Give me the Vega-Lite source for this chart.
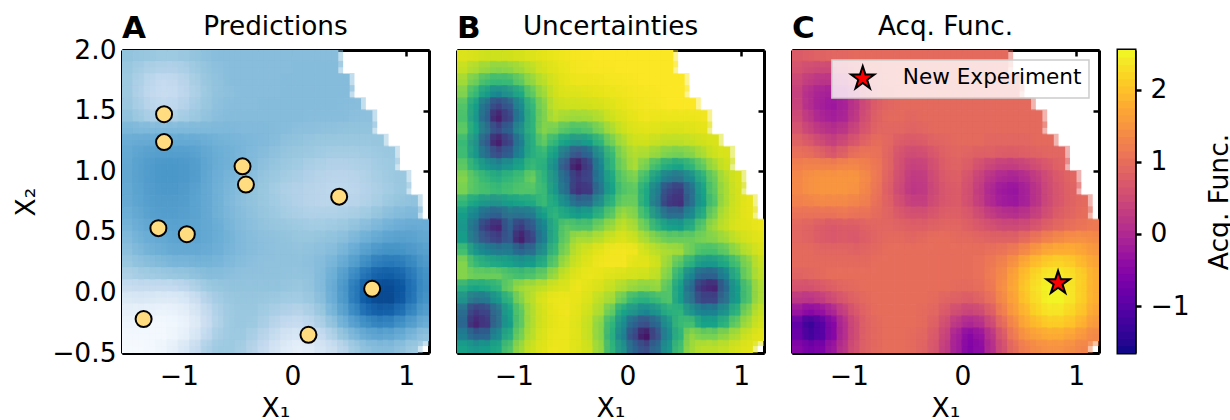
{
"$schema":"https://vega.github.io/schema/vega-lite/v6.json",
"background":"white",
"padding":{"left":13,"top":13,"right":0,"bottom":0},
"config":{"font":"DejaVu Sans","view":{"stroke":null},
"axis":{"zindex":2,"grid":false,"domainColor":"black","domainWidth":3,"tickColor":"black","tickWidth":2.5,"labelColor":"black","titleColor":"black","labelFontSize":26.5,"titleFontSize":26.5,"titleFontWeight":"normal","labelFlush":false,"labelOverlap":false}},
"datasets":{
"grid":[
{"x":-1.45,"y":1.95,"a":35,"b":86,"c":0.75},{"x":-1.35,"y":1.95,"a":34,"b":84,"c":0.8},{"x":-1.25,"y":1.95,"a":33,"b":80,"c":0.85},{"x":-1.15,"y":1.95,"a":32,"b":80,"c":0.9},{"x":-1.05,"y":1.95,"a":32,"b":81,"c":0.9},{"x":-0.95,"y":1.95,"a":33,"b":83,"c":0.95},{"x":-0.85,"y":1.95,"a":35,"b":86,"c":0.95},{"x":-0.75,"y":1.95,"a":37,"b":89,"c":0.95},{"x":-0.65,"y":1.95,"a":38,"b":92,"c":0.95},{"x":-0.55,"y":1.95,"a":38,"b":95,"c":0.95},{"x":-0.45,"y":1.95,"a":38,"b":97,"c":0.95},{"x":-0.35,"y":1.95,"a":38,"b":98,"c":0.95},{"x":-0.25,"y":1.95,"a":38,"b":99,"c":0.95},{"x":-0.15,"y":1.95,"a":38,"b":99,"c":0.95},{"x":-0.05,"y":1.95,"a":38,"b":99,"c":0.95},{"x":0.05,"y":1.95,"a":38,"b":99,"c":0.95},{"x":0.15,"y":1.95,"a":38,"b":99,"c":0.95},{"x":0.25,"y":1.95,"a":38,"b":99,"c":0.95},{"x":0.35,"y":1.95,"a":38,"b":99,"c":0.95},
{"x":-1.45,"y":1.85,"a":33,"b":78,"c":0.6},{"x":-1.35,"y":1.85,"a":30,"b":72,"c":0.5},{"x":-1.25,"y":1.85,"a":28,"b":68,"c":0.45},{"x":-1.15,"y":1.85,"a":27,"b":66,"c":0.45},{"x":-1.05,"y":1.85,"a":27,"b":67,"c":0.55},{"x":-0.95,"y":1.85,"a":29,"b":70,"c":0.7},{"x":-0.85,"y":1.85,"a":32,"b":76,"c":0.85},{"x":-0.75,"y":1.85,"a":35,"b":83,"c":0.9},{"x":-0.65,"y":1.85,"a":37,"b":88,"c":0.95},{"x":-0.55,"y":1.85,"a":38,"b":92,"c":0.95},{"x":-0.45,"y":1.85,"a":38,"b":96,"c":0.95},{"x":-0.35,"y":1.85,"a":38,"b":97,"c":0.95},{"x":-0.25,"y":1.85,"a":38,"b":98,"c":0.95},{"x":-0.15,"y":1.85,"a":38,"b":98,"c":0.95},{"x":-0.05,"y":1.85,"a":38,"b":99,"c":0.95},{"x":0.05,"y":1.85,"a":39,"b":99,"c":0.95},{"x":0.15,"y":1.85,"a":39,"b":99,"c":0.95},{"x":0.25,"y":1.85,"a":39,"b":99,"c":0.95},{"x":0.35,"y":1.85,"a":39,"b":99,"c":0.95},
{"x":-1.45,"y":1.75,"a":32,"b":70,"c":0.45},{"x":-1.35,"y":1.75,"a":28,"b":62,"c":0.25},{"x":-1.25,"y":1.75,"a":24,"b":55,"c":0.15},{"x":-1.15,"y":1.75,"a":22,"b":53,"c":0.15},{"x":-1.05,"y":1.75,"a":23,"b":54,"c":0.25},{"x":-0.95,"y":1.75,"a":26,"b":60,"c":0.5},{"x":-0.85,"y":1.75,"a":30,"b":68,"c":0.75},{"x":-0.75,"y":1.75,"a":34,"b":76,"c":0.85},{"x":-0.65,"y":1.75,"a":36,"b":84,"c":0.95},{"x":-0.55,"y":1.75,"a":38,"b":90,"c":0.95},{"x":-0.45,"y":1.75,"a":38,"b":93,"c":0.95},{"x":-0.35,"y":1.75,"a":38,"b":93,"c":0.95},{"x":-0.25,"y":1.75,"a":38,"b":94,"c":0.95},{"x":-0.15,"y":1.75,"a":38,"b":96,"c":0.95},{"x":-0.05,"y":1.75,"a":39,"b":97,"c":0.95},{"x":0.05,"y":1.75,"a":39,"b":98,"c":0.95},{"x":0.15,"y":1.75,"a":39,"b":99,"c":0.95},{"x":0.25,"y":1.75,"a":39,"b":99,"c":0.95},{"x":0.35,"y":1.75,"a":39,"b":99,"c":0.95},{"x":0.45,"y":1.75,"a":39,"b":99,"c":0.95},
{"x":-1.45,"y":1.65,"a":32,"b":65,"c":0.35},{"x":-1.35,"y":1.65,"a":27,"b":53,"c":0.05},{"x":-1.25,"y":1.65,"a":23,"b":43,"c":-0.1},{"x":-1.15,"y":1.65,"a":21,"b":36,"c":-0.15},{"x":-1.05,"y":1.65,"a":22,"b":40,"c":-0.05},{"x":-0.95,"y":1.65,"a":25,"b":48,"c":0.25},{"x":-0.85,"y":1.65,"a":29,"b":60,"c":0.6},{"x":-0.75,"y":1.65,"a":33,"b":70,"c":0.8},{"x":-0.65,"y":1.65,"a":36,"b":81,"c":0.9},{"x":-0.55,"y":1.65,"a":37,"b":86,"c":0.95},{"x":-0.45,"y":1.65,"a":38,"b":86,"c":0.95},{"x":-0.35,"y":1.65,"a":38,"b":88,"c":0.95},{"x":-0.25,"y":1.65,"a":38,"b":90,"c":0.95},{"x":-0.15,"y":1.65,"a":38,"b":92,"c":0.95},{"x":-0.05,"y":1.65,"a":39,"b":94,"c":0.95},{"x":0.05,"y":1.65,"a":39,"b":96,"c":0.95},{"x":0.15,"y":1.65,"a":39,"b":97,"c":0.95},{"x":0.25,"y":1.65,"a":39,"b":98,"c":0.95},{"x":0.35,"y":1.65,"a":39,"b":99,"c":0.95},{"x":0.45,"y":1.65,"a":39,"b":99,"c":0.95},
{"x":-1.45,"y":1.55,"a":33,"b":58,"c":0.4},{"x":-1.35,"y":1.55,"a":29,"b":44,"c":0.05},{"x":-1.25,"y":1.55,"a":25,"b":27,"c":-0.15},{"x":-1.15,"y":1.55,"a":23,"b":16,"c":-0.25},{"x":-1.05,"y":1.55,"a":24,"b":22,"c":-0.1},{"x":-0.95,"y":1.55,"a":27,"b":38,"c":0.2},{"x":-0.85,"y":1.55,"a":31,"b":53,"c":0.55},{"x":-0.75,"y":1.55,"a":34,"b":66,"c":0.8},{"x":-0.65,"y":1.55,"a":37,"b":78,"c":0.9},{"x":-0.55,"y":1.55,"a":38,"b":80,"c":0.95},{"x":-0.45,"y":1.55,"a":38,"b":80,"c":0.95},{"x":-0.35,"y":1.55,"a":38,"b":81,"c":0.95},{"x":-0.25,"y":1.55,"a":39,"b":83,"c":0.95},{"x":-0.15,"y":1.55,"a":39,"b":87,"c":0.95},{"x":-0.05,"y":1.55,"a":39,"b":91,"c":0.95},{"x":0.05,"y":1.55,"a":39,"b":94,"c":0.95},{"x":0.15,"y":1.55,"a":39,"b":96,"c":0.95},{"x":0.25,"y":1.55,"a":39,"b":97,"c":0.95},{"x":0.35,"y":1.55,"a":39,"b":99,"c":0.95},{"x":0.45,"y":1.55,"a":38,"b":99,"c":0.95},{"x":0.55,"y":1.55,"a":38,"b":99,"c":0.95},
{"x":-1.45,"y":1.45,"a":36,"b":57,"c":0.5},{"x":-1.35,"y":1.45,"a":32,"b":42,"c":0.2},{"x":-1.25,"y":1.45,"a":29,"b":24,"c":-0.05},{"x":-1.15,"y":1.45,"a":28,"b":8,"c":-0.15},{"x":-1.05,"y":1.45,"a":29,"b":17,"c":-0.05},{"x":-0.95,"y":1.45,"a":31,"b":35,"c":0.25},{"x":-0.85,"y":1.45,"a":33,"b":52,"c":0.6},{"x":-0.75,"y":1.45,"a":36,"b":65,"c":0.85},{"x":-0.65,"y":1.45,"a":38,"b":74,"c":0.95},{"x":-0.55,"y":1.45,"a":39,"b":70,"c":0.95},{"x":-0.45,"y":1.45,"a":39,"b":69,"c":0.9},{"x":-0.35,"y":1.45,"a":39,"b":70,"c":0.95},{"x":-0.25,"y":1.45,"a":39,"b":74,"c":0.95},{"x":-0.15,"y":1.45,"a":39,"b":80,"c":0.95},{"x":-0.05,"y":1.45,"a":39,"b":86,"c":0.95},{"x":0.05,"y":1.45,"a":39,"b":90,"c":0.95},{"x":0.15,"y":1.45,"a":38,"b":94,"c":0.95},{"x":0.25,"y":1.45,"a":38,"b":92,"c":0.95},{"x":0.35,"y":1.45,"a":38,"b":92,"c":0.95},{"x":0.45,"y":1.45,"a":38,"b":92,"c":0.95},{"x":0.55,"y":1.45,"a":37,"b":92,"c":0.95},{"x":0.65,"y":1.45,"a":37,"b":94,"c":0.95},
{"x":-1.45,"y":1.35,"a":42,"b":60,"c":0.65},{"x":-1.35,"y":1.35,"a":41,"b":46,"c":0.4},{"x":-1.25,"y":1.35,"a":41,"b":30,"c":0.2},{"x":-1.15,"y":1.35,"a":41,"b":18,"c":0.1},{"x":-1.05,"y":1.35,"a":41,"b":25,"c":0.2},{"x":-0.95,"y":1.35,"a":41,"b":40,"c":0.45},{"x":-0.85,"y":1.35,"a":41,"b":52,"c":0.7},{"x":-0.75,"y":1.35,"a":41,"b":66,"c":0.9},{"x":-0.65,"y":1.35,"a":41,"b":63,"c":0.9},{"x":-0.55,"y":1.35,"a":41,"b":58,"c":0.9},{"x":-0.45,"y":1.35,"a":40,"b":56,"c":0.85},{"x":-0.35,"y":1.35,"a":40,"b":58,"c":0.9},{"x":-0.25,"y":1.35,"a":40,"b":64,"c":0.95},{"x":-0.15,"y":1.35,"a":39,"b":72,"c":0.95},{"x":-0.05,"y":1.35,"a":38,"b":80,"c":0.95},{"x":0.05,"y":1.35,"a":37,"b":86,"c":0.95},{"x":0.15,"y":1.35,"a":37,"b":88,"c":0.95},{"x":0.25,"y":1.35,"a":36,"b":87,"c":0.95},{"x":0.35,"y":1.35,"a":36,"b":85,"c":0.95},{"x":0.45,"y":1.35,"a":35,"b":85,"c":0.95},{"x":0.55,"y":1.35,"a":35,"b":87,"c":0.95},{"x":0.65,"y":1.35,"a":35,"b":89,"c":0.95},
{"x":-1.45,"y":1.25,"a":47,"b":54,"c":0.85},{"x":-1.35,"y":1.25,"a":48,"b":40,"c":0.7},{"x":-1.25,"y":1.25,"a":48,"b":22,"c":0.5},{"x":-1.15,"y":1.25,"a":50,"b":8,"c":0.35},{"x":-1.05,"y":1.25,"a":49,"b":17,"c":0.5},{"x":-0.95,"y":1.25,"a":49,"b":34,"c":0.7},{"x":-0.85,"y":1.25,"a":48,"b":50,"c":0.9},{"x":-0.75,"y":1.25,"a":46,"b":60,"c":1.0},{"x":-0.65,"y":1.25,"a":44,"b":52,"c":0.9},{"x":-0.55,"y":1.25,"a":43,"b":45,"c":0.75},{"x":-0.45,"y":1.25,"a":42,"b":40,"c":0.7},{"x":-0.35,"y":1.25,"a":41,"b":44,"c":0.75},{"x":-0.25,"y":1.25,"a":40,"b":52,"c":0.85},{"x":-0.15,"y":1.25,"a":38,"b":63,"c":0.9},{"x":-0.05,"y":1.25,"a":36,"b":72,"c":0.95},{"x":0.05,"y":1.25,"a":35,"b":80,"c":0.95},{"x":0.15,"y":1.25,"a":34,"b":81,"c":0.95},{"x":0.25,"y":1.25,"a":33,"b":78,"c":0.9},{"x":0.35,"y":1.25,"a":33,"b":76,"c":0.9},{"x":0.45,"y":1.25,"a":33,"b":76,"c":0.9},{"x":0.55,"y":1.25,"a":33,"b":78,"c":0.9},{"x":0.65,"y":1.25,"a":33,"b":81,"c":0.95},{"x":0.75,"y":1.25,"a":34,"b":85,"c":0.95},
{"x":-1.45,"y":1.15,"a":49,"b":55,"c":1.05},{"x":-1.35,"y":1.15,"a":52,"b":42,"c":1.0},{"x":-1.25,"y":1.15,"a":54,"b":28,"c":0.85},{"x":-1.15,"y":1.15,"a":55,"b":19,"c":0.7},{"x":-1.05,"y":1.15,"a":55,"b":24,"c":0.85},{"x":-0.95,"y":1.15,"a":55,"b":37,"c":1.05},{"x":-0.85,"y":1.15,"a":53,"b":50,"c":1.1},{"x":-0.75,"y":1.15,"a":49,"b":53,"c":1.05},{"x":-0.65,"y":1.15,"a":46,"b":44,"c":0.85},{"x":-0.55,"y":1.15,"a":44,"b":30,"c":0.6},{"x":-0.45,"y":1.15,"a":42,"b":20,"c":0.5},{"x":-0.35,"y":1.15,"a":40,"b":26,"c":0.55},{"x":-0.25,"y":1.15,"a":38,"b":40,"c":0.7},{"x":-0.15,"y":1.15,"a":36,"b":54,"c":0.85},{"x":-0.05,"y":1.15,"a":34,"b":67,"c":0.9},{"x":0.05,"y":1.15,"a":33,"b":74,"c":0.85},{"x":0.15,"y":1.15,"a":32,"b":72,"c":0.8},{"x":0.25,"y":1.15,"a":31,"b":68,"c":0.8},{"x":0.35,"y":1.15,"a":30,"b":64,"c":0.75},{"x":0.45,"y":1.15,"a":30,"b":63,"c":0.75},{"x":0.55,"y":1.15,"a":30,"b":66,"c":0.8},{"x":0.65,"y":1.15,"a":31,"b":72,"c":0.85},{"x":0.75,"y":1.15,"a":32,"b":80,"c":0.9},{"x":0.85,"y":1.15,"a":33,"b":85,"c":0.9},
{"x":-1.45,"y":1.05,"a":50,"b":60,"c":1.25},{"x":-1.35,"y":1.05,"a":54,"b":50,"c":1.3},{"x":-1.25,"y":1.05,"a":57,"b":42,"c":1.3},{"x":-1.15,"y":1.05,"a":59,"b":38,"c":1.3},{"x":-1.05,"y":1.05,"a":59,"b":42,"c":1.35},{"x":-0.95,"y":1.05,"a":58,"b":47,"c":1.35},{"x":-0.85,"y":1.05,"a":55,"b":54,"c":1.25},{"x":-0.75,"y":1.05,"a":50,"b":50,"c":1.1},{"x":-0.65,"y":1.05,"a":46,"b":38,"c":0.85},{"x":-0.55,"y":1.05,"a":44,"b":20,"c":0.55},{"x":-0.45,"y":1.05,"a":42,"b":6,"c":0.35},{"x":-0.35,"y":1.05,"a":39,"b":16,"c":0.4},{"x":-0.25,"y":1.05,"a":36,"b":36,"c":0.6},{"x":-0.15,"y":1.05,"a":34,"b":52,"c":0.8},{"x":-0.05,"y":1.05,"a":32,"b":64,"c":0.85},{"x":0.05,"y":1.05,"a":31,"b":72,"c":0.75},{"x":0.15,"y":1.05,"a":29,"b":63,"c":0.55},{"x":0.25,"y":1.05,"a":28,"b":54,"c":0.4},{"x":0.35,"y":1.05,"a":27,"b":48,"c":0.3},{"x":0.45,"y":1.05,"a":27,"b":46,"c":0.3},{"x":0.55,"y":1.05,"a":28,"b":52,"c":0.4},{"x":0.65,"y":1.05,"a":29,"b":60,"c":0.55},{"x":0.75,"y":1.05,"a":31,"b":70,"c":0.7},{"x":0.85,"y":1.05,"a":32,"b":80,"c":0.85},
{"x":-1.45,"y":0.95,"a":50,"b":66,"c":1.35},{"x":-1.35,"y":0.95,"a":54,"b":58,"c":1.45},{"x":-1.25,"y":0.95,"a":57,"b":53,"c":1.5},{"x":-1.15,"y":0.95,"a":59,"b":50,"c":1.5},{"x":-1.05,"y":0.95,"a":59,"b":53,"c":1.5},{"x":-0.95,"y":0.95,"a":58,"b":56,"c":1.5},{"x":-0.85,"y":0.95,"a":55,"b":62,"c":1.35},{"x":-0.75,"y":0.95,"a":49,"b":52,"c":1.1},{"x":-0.65,"y":0.95,"a":45,"b":40,"c":0.8},{"x":-0.55,"y":0.95,"a":42,"b":26,"c":0.5},{"x":-0.45,"y":0.95,"a":40,"b":14,"c":0.25},{"x":-0.35,"y":0.95,"a":37,"b":17,"c":0.3},{"x":-0.25,"y":0.95,"a":34,"b":34,"c":0.55},{"x":-0.15,"y":0.95,"a":32,"b":48,"c":0.75},{"x":-0.05,"y":0.95,"a":30,"b":60,"c":0.8},{"x":0.05,"y":0.95,"a":29,"b":64,"c":0.6},{"x":0.15,"y":0.95,"a":27,"b":54,"c":0.35},{"x":0.25,"y":0.95,"a":26,"b":42,"c":0.1},{"x":0.35,"y":0.95,"a":25,"b":32,"c":-0.05},{"x":0.45,"y":0.95,"a":25,"b":30,"c":-0.1},{"x":0.55,"y":0.95,"a":26,"b":38,"c":0.05},{"x":0.65,"y":0.95,"a":28,"b":50,"c":0.3},{"x":0.75,"y":0.95,"a":30,"b":62,"c":0.55},{"x":0.85,"y":0.95,"a":32,"b":74,"c":0.75},{"x":0.95,"y":0.95,"a":33,"b":84,"c":0.9},
{"x":-1.45,"y":0.85,"a":49,"b":64,"c":1.35},{"x":-1.35,"y":0.85,"a":53,"b":58,"c":1.45},{"x":-1.25,"y":0.85,"a":56,"b":56,"c":1.5},{"x":-1.15,"y":0.85,"a":58,"b":54,"c":1.5},{"x":-1.05,"y":0.85,"a":58,"b":56,"c":1.5},{"x":-0.95,"y":0.85,"a":56,"b":58,"c":1.45},{"x":-0.85,"y":0.85,"a":53,"b":58,"c":1.3},{"x":-0.75,"y":0.85,"a":48,"b":54,"c":1.05},{"x":-0.65,"y":0.85,"a":44,"b":42,"c":0.75},{"x":-0.55,"y":0.85,"a":41,"b":28,"c":0.45},{"x":-0.45,"y":0.85,"a":38,"b":12,"c":0.2},{"x":-0.35,"y":0.85,"a":35,"b":14,"c":0.25},{"x":-0.25,"y":0.85,"a":33,"b":31,"c":0.5},{"x":-0.15,"y":0.85,"a":30,"b":46,"c":0.7},{"x":-0.05,"y":0.85,"a":28,"b":58,"c":0.75},{"x":0.05,"y":0.85,"a":27,"b":60,"c":0.55},{"x":0.15,"y":0.85,"a":26,"b":48,"c":0.25},{"x":0.25,"y":0.85,"a":25,"b":33,"c":-0.05},{"x":0.35,"y":0.85,"a":24,"b":17,"c":-0.25},{"x":0.45,"y":0.85,"a":24,"b":14,"c":-0.3},{"x":0.55,"y":0.85,"a":25,"b":29,"c":-0.1},{"x":0.65,"y":0.85,"a":27,"b":46,"c":0.2},{"x":0.75,"y":0.85,"a":29,"b":60,"c":0.5},{"x":0.85,"y":0.85,"a":31,"b":72,"c":0.7},{"x":0.95,"y":0.85,"a":33,"b":83,"c":0.85},
{"x":-1.45,"y":0.75,"a":48,"b":52,"c":1.25},{"x":-1.35,"y":0.75,"a":52,"b":46,"c":1.3},{"x":-1.25,"y":0.75,"a":55,"b":41,"c":1.35},{"x":-1.15,"y":0.75,"a":56,"b":40,"c":1.35},{"x":-1.05,"y":0.75,"a":56,"b":44,"c":1.35},{"x":-0.95,"y":0.75,"a":55,"b":46,"c":1.3},{"x":-0.85,"y":0.75,"a":52,"b":48,"c":1.2},{"x":-0.75,"y":0.75,"a":48,"b":54,"c":1.0},{"x":-0.65,"y":0.75,"a":44,"b":48,"c":0.8},{"x":-0.55,"y":0.75,"a":40,"b":38,"c":0.55},{"x":-0.45,"y":0.75,"a":37,"b":28,"c":0.35},{"x":-0.35,"y":0.75,"a":35,"b":29,"c":0.35},{"x":-0.25,"y":0.75,"a":33,"b":40,"c":0.55},{"x":-0.15,"y":0.75,"a":31,"b":52,"c":0.7},{"x":-0.05,"y":0.75,"a":29,"b":62,"c":0.75},{"x":0.05,"y":0.75,"a":27,"b":62,"c":0.55},{"x":0.15,"y":0.75,"a":26,"b":48,"c":0.3},{"x":0.25,"y":0.75,"a":25,"b":31,"c":0.0},{"x":0.35,"y":0.75,"a":25,"b":14,"c":-0.2},{"x":0.45,"y":0.75,"a":25,"b":12,"c":-0.25},{"x":0.55,"y":0.75,"a":26,"b":29,"c":-0.1},{"x":0.65,"y":0.75,"a":28,"b":44,"c":0.2},{"x":0.75,"y":0.75,"a":30,"b":58,"c":0.5},{"x":0.85,"y":0.75,"a":33,"b":72,"c":0.7},{"x":0.95,"y":0.75,"a":35,"b":83,"c":0.85},{"x":1.05,"y":0.75,"a":36,"b":90,"c":0.95},
{"x":-1.45,"y":0.65,"a":46,"b":44,"c":1.05},{"x":-1.35,"y":0.65,"a":50,"b":35,"c":1.05},{"x":-1.25,"y":0.65,"a":54,"b":26,"c":1.05},{"x":-1.15,"y":0.65,"a":55,"b":23,"c":1.05},{"x":-1.05,"y":0.65,"a":55,"b":30,"c":1.1},{"x":-0.95,"y":0.65,"a":54,"b":29,"c":1.05},{"x":-0.85,"y":0.65,"a":52,"b":32,"c":1.05},{"x":-0.75,"y":0.65,"a":48,"b":44,"c":0.95},{"x":-0.65,"y":0.65,"a":44,"b":52,"c":0.85},{"x":-0.55,"y":0.65,"a":41,"b":48,"c":0.7},{"x":-0.45,"y":0.65,"a":38,"b":44,"c":0.6},{"x":-0.35,"y":0.65,"a":36,"b":46,"c":0.6},{"x":-0.25,"y":0.65,"a":34,"b":52,"c":0.7},{"x":-0.15,"y":0.65,"a":32,"b":60,"c":0.8},{"x":-0.05,"y":0.65,"a":30,"b":70,"c":0.8},{"x":0.05,"y":0.65,"a":29,"b":66,"c":0.7},{"x":0.15,"y":0.65,"a":28,"b":54,"c":0.5},{"x":0.25,"y":0.65,"a":28,"b":40,"c":0.3},{"x":0.35,"y":0.65,"a":28,"b":29,"c":0.15},{"x":0.45,"y":0.65,"a":29,"b":29,"c":0.1},{"x":0.55,"y":0.65,"a":30,"b":38,"c":0.2},{"x":0.65,"y":0.65,"a":32,"b":50,"c":0.4},{"x":0.75,"y":0.65,"a":35,"b":64,"c":0.6},{"x":0.85,"y":0.65,"a":38,"b":76,"c":0.8},{"x":0.95,"y":0.65,"a":40,"b":84,"c":0.9},{"x":1.05,"y":0.65,"a":41,"b":90,"c":1.0},
{"x":-1.45,"y":0.55,"a":43,"b":42,"c":0.9},{"x":-1.35,"y":0.55,"a":47,"b":28,"c":0.85},{"x":-1.25,"y":0.55,"a":50,"b":14,"c":0.75},{"x":-1.15,"y":0.55,"a":52,"b":10,"c":0.7},{"x":-1.05,"y":0.55,"a":53,"b":24,"c":0.75},{"x":-0.95,"y":0.55,"a":53,"b":14,"c":0.75},{"x":-0.85,"y":0.55,"a":51,"b":22,"c":0.85},{"x":-0.75,"y":0.55,"a":49,"b":36,"c":0.9},{"x":-0.65,"y":0.55,"a":46,"b":50,"c":0.9},{"x":-0.55,"y":0.55,"a":42,"b":60,"c":0.85},{"x":-0.45,"y":0.55,"a":39,"b":58,"c":0.8},{"x":-0.35,"y":0.55,"a":37,"b":58,"c":0.8},{"x":-0.25,"y":0.55,"a":35,"b":64,"c":0.85},{"x":-0.15,"y":0.55,"a":34,"b":70,"c":0.9},{"x":-0.05,"y":0.55,"a":33,"b":78,"c":0.9},{"x":0.05,"y":0.55,"a":32,"b":72,"c":0.8},{"x":0.15,"y":0.55,"a":31,"b":62,"c":0.7},{"x":0.25,"y":0.55,"a":31,"b":52,"c":0.6},{"x":0.35,"y":0.55,"a":32,"b":46,"c":0.5},{"x":0.45,"y":0.55,"a":33,"b":44,"c":0.5},{"x":0.55,"y":0.55,"a":36,"b":50,"c":0.55},{"x":0.65,"y":0.55,"a":39,"b":60,"c":0.7},{"x":0.75,"y":0.55,"a":42,"b":70,"c":0.85},{"x":0.85,"y":0.55,"a":45,"b":78,"c":0.95},{"x":0.95,"y":0.55,"a":47,"b":86,"c":1.05},{"x":1.05,"y":0.55,"a":48,"b":88,"c":1.1},{"x":1.15,"y":0.55,"a":47,"b":92,"c":1.15},
{"x":-1.45,"y":0.45,"a":40,"b":44,"c":0.9},{"x":-1.35,"y":0.45,"a":44,"b":30,"c":0.85},{"x":-1.25,"y":0.45,"a":47,"b":20,"c":0.75},{"x":-1.15,"y":0.45,"a":49,"b":16,"c":0.7},{"x":-1.05,"y":0.45,"a":51,"b":22,"c":0.75},{"x":-0.95,"y":0.45,"a":52,"b":8,"c":0.7},{"x":-0.85,"y":0.45,"a":51,"b":17,"c":0.8},{"x":-0.75,"y":0.45,"a":49,"b":34,"c":0.9},{"x":-0.65,"y":0.45,"a":46,"b":50,"c":0.95},{"x":-0.55,"y":0.45,"a":43,"b":62,"c":0.95},{"x":-0.45,"y":0.45,"a":40,"b":72,"c":0.9},{"x":-0.35,"y":0.45,"a":38,"b":72,"c":0.95},{"x":-0.25,"y":0.45,"a":37,"b":76,"c":1.0},{"x":-0.15,"y":0.45,"a":36,"b":82,"c":1.0},{"x":-0.05,"y":0.45,"a":35,"b":86,"c":0.95},{"x":0.05,"y":0.45,"a":34,"b":80,"c":0.95},{"x":0.15,"y":0.45,"a":34,"b":72,"c":0.9},{"x":0.25,"y":0.45,"a":35,"b":66,"c":0.85},{"x":0.35,"y":0.45,"a":36,"b":62,"c":0.85},{"x":0.45,"y":0.45,"a":38,"b":62,"c":0.85},{"x":0.55,"y":0.45,"a":42,"b":62,"c":1.0},{"x":0.65,"y":0.45,"a":46,"b":64,"c":1.15},{"x":0.75,"y":0.45,"a":50,"b":66,"c":1.3},{"x":0.85,"y":0.45,"a":53,"b":70,"c":1.4},{"x":0.95,"y":0.45,"a":54,"b":78,"c":1.45},{"x":1.05,"y":0.45,"a":53,"b":84,"c":1.45},{"x":1.15,"y":0.45,"a":50,"b":88,"c":1.4},
{"x":-1.45,"y":0.35,"a":37,"b":56,"c":0.95},{"x":-1.35,"y":0.35,"a":41,"b":42,"c":0.95},{"x":-1.25,"y":0.35,"a":44,"b":36,"c":0.9},{"x":-1.15,"y":0.35,"a":46,"b":33,"c":0.9},{"x":-1.05,"y":0.35,"a":48,"b":33,"c":0.9},{"x":-0.95,"y":0.35,"a":48,"b":26,"c":0.85},{"x":-0.85,"y":0.35,"a":48,"b":29,"c":0.9},{"x":-0.75,"y":0.35,"a":47,"b":40,"c":0.95},{"x":-0.65,"y":0.35,"a":45,"b":54,"c":1.0},{"x":-0.55,"y":0.35,"a":42,"b":66,"c":1.0},{"x":-0.45,"y":0.35,"a":40,"b":78,"c":1.0},{"x":-0.35,"y":0.35,"a":38,"b":84,"c":1.0},{"x":-0.25,"y":0.35,"a":37,"b":90,"c":1.0},{"x":-0.15,"y":0.35,"a":36,"b":95,"c":1.0},{"x":-0.05,"y":0.35,"a":36,"b":96,"c":1.0},{"x":0.05,"y":0.35,"a":35,"b":94,"c":1.0},{"x":0.15,"y":0.35,"a":36,"b":82,"c":1.0},{"x":0.25,"y":0.35,"a":37,"b":76,"c":1.05},{"x":0.35,"y":0.35,"a":39,"b":72,"c":1.1},{"x":0.45,"y":0.35,"a":43,"b":70,"c":1.2},{"x":0.55,"y":0.35,"a":49,"b":62,"c":1.4},{"x":0.65,"y":0.35,"a":55,"b":56,"c":1.6},{"x":0.75,"y":0.35,"a":60,"b":56,"c":1.75},{"x":0.85,"y":0.35,"a":62,"b":60,"c":1.8},{"x":0.95,"y":0.35,"a":61,"b":68,"c":1.8},{"x":1.05,"y":0.35,"a":58,"b":76,"c":1.7},{"x":1.15,"y":0.35,"a":54,"b":84,"c":1.55},
{"x":-1.45,"y":0.25,"a":33,"b":66,"c":0.95},{"x":-1.35,"y":0.25,"a":36,"b":54,"c":0.95},{"x":-1.25,"y":0.25,"a":38,"b":50,"c":0.95},{"x":-1.15,"y":0.25,"a":40,"b":48,"c":0.95},{"x":-1.05,"y":0.25,"a":42,"b":46,"c":0.95},{"x":-0.95,"y":0.25,"a":42,"b":42,"c":0.95},{"x":-0.85,"y":0.25,"a":43,"b":44,"c":0.95},{"x":-0.75,"y":0.25,"a":43,"b":50,"c":1.0},{"x":-0.65,"y":0.25,"a":42,"b":60,"c":1.0},{"x":-0.55,"y":0.25,"a":40,"b":72,"c":1.0},{"x":-0.45,"y":0.25,"a":38,"b":82,"c":1.0},{"x":-0.35,"y":0.25,"a":37,"b":88,"c":1.0},{"x":-0.25,"y":0.25,"a":36,"b":94,"c":1.0},{"x":-0.15,"y":0.25,"a":36,"b":96,"c":1.0},{"x":-0.05,"y":0.25,"a":36,"b":96,"c":1.0},{"x":0.05,"y":0.25,"a":36,"b":88,"c":1.0},{"x":0.15,"y":0.25,"a":37,"b":88,"c":1.05},{"x":0.25,"y":0.25,"a":39,"b":80,"c":1.15},{"x":0.35,"y":0.25,"a":43,"b":68,"c":1.3},{"x":0.45,"y":0.25,"a":49,"b":58,"c":1.5},{"x":0.55,"y":0.25,"a":57,"b":50,"c":1.8},{"x":0.65,"y":0.25,"a":65,"b":42,"c":2.0},{"x":0.75,"y":0.25,"a":70,"b":42,"c":2.15},{"x":0.85,"y":0.25,"a":72,"b":48,"c":2.2},{"x":0.95,"y":0.25,"a":70,"b":56,"c":2.1},{"x":1.05,"y":0.25,"a":65,"b":66,"c":1.9},{"x":1.15,"y":0.25,"a":58,"b":78,"c":1.7},
{"x":-1.45,"y":0.15,"a":28,"b":66,"c":0.85},{"x":-1.35,"y":0.15,"a":30,"b":62,"c":0.9},{"x":-1.25,"y":0.15,"a":31,"b":62,"c":0.95},{"x":-1.15,"y":0.15,"a":32,"b":62,"c":1.0},{"x":-1.05,"y":0.15,"a":33,"b":58,"c":1.0},{"x":-0.95,"y":0.15,"a":34,"b":56,"c":1.0},{"x":-0.85,"y":0.15,"a":36,"b":58,"c":1.0},{"x":-0.75,"y":0.15,"a":38,"b":62,"c":1.0},{"x":-0.65,"y":0.15,"a":38,"b":70,"c":1.0},{"x":-0.55,"y":0.15,"a":37,"b":80,"c":1.0},{"x":-0.45,"y":0.15,"a":36,"b":88,"c":1.0},{"x":-0.35,"y":0.15,"a":36,"b":92,"c":1.0},{"x":-0.25,"y":0.15,"a":36,"b":90,"c":1.0},{"x":-0.15,"y":0.15,"a":36,"b":86,"c":1.0},{"x":-0.05,"y":0.15,"a":35,"b":84,"c":1.0},{"x":0.05,"y":0.15,"a":35,"b":82,"c":1.0},{"x":0.15,"y":0.15,"a":36,"b":80,"c":1.05},{"x":0.25,"y":0.15,"a":40,"b":76,"c":1.2},{"x":0.35,"y":0.15,"a":46,"b":64,"c":1.4},{"x":0.45,"y":0.15,"a":56,"b":50,"c":1.7},{"x":0.55,"y":0.15,"a":66,"b":35,"c":2.0},{"x":0.65,"y":0.15,"a":75,"b":24,"c":2.25},{"x":0.75,"y":0.15,"a":80,"b":24,"c":2.4},{"x":0.85,"y":0.15,"a":81,"b":35,"c":2.4},{"x":0.95,"y":0.15,"a":78,"b":50,"c":2.3},{"x":1.05,"y":0.15,"a":70,"b":64,"c":2.1},{"x":1.15,"y":0.15,"a":62,"b":76,"c":1.8},
{"x":-1.45,"y":0.05,"a":20,"b":50,"c":0.6},{"x":-1.35,"y":0.05,"a":21,"b":46,"c":0.6},{"x":-1.25,"y":0.05,"a":21,"b":48,"c":0.7},{"x":-1.15,"y":0.05,"a":21,"b":52,"c":0.8},{"x":-1.05,"y":0.05,"a":22,"b":62,"c":0.9},{"x":-0.95,"y":0.05,"a":24,"b":70,"c":0.95},{"x":-0.85,"y":0.05,"a":28,"b":74,"c":1.0},{"x":-0.75,"y":0.05,"a":32,"b":78,"c":1.0},{"x":-0.65,"y":0.05,"a":34,"b":84,"c":1.0},{"x":-0.55,"y":0.05,"a":35,"b":86,"c":1.0},{"x":-0.45,"y":0.05,"a":35,"b":93,"c":1.0},{"x":-0.35,"y":0.05,"a":35,"b":88,"c":1.0},{"x":-0.25,"y":0.05,"a":35,"b":84,"c":1.0},{"x":-0.15,"y":0.05,"a":35,"b":78,"c":1.0},{"x":-0.05,"y":0.05,"a":34,"b":72,"c":0.95},{"x":0.05,"y":0.05,"a":33,"b":68,"c":0.95},{"x":0.15,"y":0.05,"a":35,"b":66,"c":1.0},{"x":0.25,"y":0.05,"a":40,"b":68,"c":1.15},{"x":0.35,"y":0.05,"a":48,"b":58,"c":1.45},{"x":0.45,"y":0.05,"a":60,"b":44,"c":1.75},{"x":0.55,"y":0.05,"a":72,"b":27,"c":2.1},{"x":0.65,"y":0.05,"a":82,"b":12,"c":2.35},{"x":0.75,"y":0.05,"a":87,"b":10,"c":2.5},{"x":0.85,"y":0.05,"a":87,"b":27,"c":2.5},{"x":0.95,"y":0.05,"a":83,"b":44,"c":2.35},{"x":1.05,"y":0.05,"a":73,"b":58,"c":2.1},{"x":1.15,"y":0.05,"a":63,"b":72,"c":1.8},
{"x":-1.45,"y":-0.05,"a":12,"b":40,"c":0.2},{"x":-1.35,"y":-0.05,"a":13,"b":30,"c":0.15},{"x":-1.25,"y":-0.05,"a":12,"b":32,"c":0.3},{"x":-1.15,"y":-0.05,"a":11,"b":42,"c":0.5},{"x":-1.05,"y":-0.05,"a":11,"b":52,"c":0.7},{"x":-0.95,"y":-0.05,"a":14,"b":66,"c":0.85},{"x":-0.85,"y":-0.05,"a":20,"b":76,"c":0.95},{"x":-0.75,"y":-0.05,"a":27,"b":86,"c":1.0},{"x":-0.65,"y":-0.05,"a":31,"b":92,"c":1.0},{"x":-0.55,"y":-0.05,"a":33,"b":93,"c":1.0},{"x":-0.45,"y":-0.05,"a":34,"b":90,"c":1.0},{"x":-0.35,"y":-0.05,"a":34,"b":85,"c":1.0},{"x":-0.25,"y":-0.05,"a":33,"b":76,"c":0.95},{"x":-0.15,"y":-0.05,"a":32,"b":70,"c":0.85},{"x":-0.05,"y":-0.05,"a":31,"b":60,"c":0.8},{"x":0.05,"y":-0.05,"a":31,"b":52,"c":0.75},{"x":0.15,"y":-0.05,"a":33,"b":50,"c":0.85},{"x":0.25,"y":-0.05,"a":38,"b":54,"c":1.05},{"x":0.35,"y":-0.05,"a":47,"b":58,"c":1.4},{"x":0.45,"y":-0.05,"a":59,"b":44,"c":1.7},{"x":0.55,"y":-0.05,"a":72,"b":30,"c":2.05},{"x":0.65,"y":-0.05,"a":83,"b":17,"c":2.3},{"x":0.75,"y":-0.05,"a":88,"b":17,"c":2.5},{"x":0.85,"y":-0.05,"a":88,"b":30,"c":2.5},{"x":0.95,"y":-0.05,"a":82,"b":44,"c":2.35},{"x":1.05,"y":-0.05,"a":72,"b":58,"c":2.1},{"x":1.15,"y":-0.05,"a":61,"b":72,"c":1.8},
{"x":-1.45,"y":-0.15,"a":7,"b":28,"c":-0.3},{"x":-1.35,"y":-0.15,"a":7,"b":14,"c":-0.5},{"x":-1.25,"y":-0.15,"a":6,"b":17,"c":-0.35},{"x":-1.15,"y":-0.15,"a":5,"b":30,"c":-0.05},{"x":-1.05,"y":-0.15,"a":6,"b":46,"c":0.35},{"x":-0.95,"y":-0.15,"a":9,"b":60,"c":0.7},{"x":-0.85,"y":-0.15,"a":15,"b":74,"c":0.9},{"x":-0.75,"y":-0.15,"a":23,"b":84,"c":1.0},{"x":-0.65,"y":-0.15,"a":29,"b":91,"c":1.0},{"x":-0.55,"y":-0.15,"a":32,"b":94,"c":1.0},{"x":-0.45,"y":-0.15,"a":33,"b":88,"c":1.0},{"x":-0.35,"y":-0.15,"a":33,"b":80,"c":0.95},{"x":-0.25,"y":-0.15,"a":31,"b":72,"c":0.9},{"x":-0.15,"y":-0.15,"a":29,"b":60,"c":0.7},{"x":-0.05,"y":-0.15,"a":27,"b":46,"c":0.5},{"x":0.05,"y":-0.15,"a":26,"b":40,"c":0.4},{"x":0.15,"y":-0.15,"a":29,"b":36,"c":0.5},{"x":0.25,"y":-0.15,"a":34,"b":41,"c":0.8},{"x":0.35,"y":-0.15,"a":43,"b":50,"c":1.25},{"x":0.45,"y":-0.15,"a":54,"b":52,"c":1.6},{"x":0.55,"y":-0.15,"a":66,"b":41,"c":1.9},{"x":0.65,"y":-0.15,"a":76,"b":35,"c":2.2},{"x":0.75,"y":-0.15,"a":80,"b":35,"c":2.35},{"x":0.85,"y":-0.15,"a":79,"b":41,"c":2.35},{"x":0.95,"y":-0.15,"a":74,"b":52,"c":2.2},{"x":1.05,"y":-0.15,"a":65,"b":66,"c":2.0},{"x":1.15,"y":-0.15,"a":55,"b":78,"c":1.7},
{"x":-1.45,"y":-0.25,"a":4,"b":26,"c":-0.9},{"x":-1.35,"y":-0.25,"a":3,"b":10,"c":-1.3},{"x":-1.25,"y":-0.25,"a":2,"b":14,"c":-1.0},{"x":-1.15,"y":-0.25,"a":2,"b":30,"c":-0.5},{"x":-1.05,"y":-0.25,"a":3,"b":44,"c":0.1},{"x":-0.95,"y":-0.25,"a":6,"b":60,"c":0.55},{"x":-0.85,"y":-0.25,"a":12,"b":74,"c":0.85},{"x":-0.75,"y":-0.25,"a":21,"b":84,"c":0.95},{"x":-0.65,"y":-0.25,"a":28,"b":90,"c":1.0},{"x":-0.55,"y":-0.25,"a":32,"b":92,"c":1.0},{"x":-0.45,"y":-0.25,"a":33,"b":86,"c":1.0},{"x":-0.35,"y":-0.25,"a":32,"b":78,"c":0.95},{"x":-0.25,"y":-0.25,"a":29,"b":66,"c":0.8},{"x":-0.15,"y":-0.25,"a":25,"b":52,"c":0.5},{"x":-0.05,"y":-0.25,"a":22,"b":38,"c":0.15},{"x":0.05,"y":-0.25,"a":21,"b":24,"c":-0.05},{"x":0.15,"y":-0.25,"a":24,"b":19,"c":0.1},{"x":0.25,"y":-0.25,"a":29,"b":27,"c":0.5},{"x":0.35,"y":-0.25,"a":36,"b":41,"c":1.0},{"x":0.45,"y":-0.25,"a":45,"b":54,"c":1.4},{"x":0.55,"y":-0.25,"a":55,"b":56,"c":1.75},{"x":0.65,"y":-0.25,"a":63,"b":46,"c":1.95},{"x":0.75,"y":-0.25,"a":67,"b":46,"c":2.1},{"x":0.85,"y":-0.25,"a":66,"b":52,"c":2.1},{"x":0.95,"y":-0.25,"a":61,"b":62,"c":2.0},{"x":1.05,"y":-0.25,"a":54,"b":72,"c":1.8},{"x":1.15,"y":-0.25,"a":46,"b":82,"c":1.55},
{"x":-1.45,"y":-0.35,"a":2,"b":34,"c":-0.8},{"x":-1.35,"y":-0.35,"a":2,"b":25,"c":-1.2},{"x":-1.25,"y":-0.35,"a":2,"b":26,"c":-1.0},{"x":-1.15,"y":-0.35,"a":2,"b":38,"c":-0.5},{"x":-1.05,"y":-0.35,"a":4,"b":50,"c":0.1},{"x":-0.95,"y":-0.35,"a":8,"b":64,"c":0.55},{"x":-0.85,"y":-0.35,"a":15,"b":76,"c":0.85},{"x":-0.75,"y":-0.35,"a":24,"b":86,"c":0.95},{"x":-0.65,"y":-0.35,"a":30,"b":92,"c":1.0},{"x":-0.55,"y":-0.35,"a":32,"b":92,"c":1.0},{"x":-0.45,"y":-0.35,"a":32,"b":87,"c":0.95},{"x":-0.35,"y":-0.35,"a":29,"b":78,"c":0.9},{"x":-0.25,"y":-0.35,"a":25,"b":66,"c":0.7},{"x":-0.15,"y":-0.35,"a":20,"b":50,"c":0.35},{"x":-0.05,"y":-0.35,"a":15,"b":34,"c":-0.15},{"x":0.05,"y":-0.35,"a":14,"b":17,"c":-0.5},{"x":0.15,"y":-0.35,"a":17,"b":5,"c":-0.3},{"x":0.25,"y":-0.35,"a":22,"b":20,"c":0.2},{"x":0.35,"y":-0.35,"a":28,"b":38,"c":0.75},{"x":0.45,"y":-0.35,"a":35,"b":52,"c":1.2},{"x":0.55,"y":-0.35,"a":42,"b":68,"c":1.5},{"x":0.65,"y":-0.35,"a":48,"b":64,"c":1.65},{"x":0.75,"y":-0.35,"a":51,"b":64,"c":1.75},{"x":0.85,"y":-0.35,"a":50,"b":68,"c":1.75},{"x":0.95,"y":-0.35,"a":46,"b":74,"c":1.65},{"x":1.05,"y":-0.35,"a":41,"b":82,"c":1.5},{"x":1.15,"y":-0.35,"a":36,"b":88,"c":1.35},
{"x":-1.45,"y":-0.45,"a":1,"b":46,"c":-0.5},{"x":-1.35,"y":-0.45,"a":1,"b":42,"c":-0.7},{"x":-1.25,"y":-0.45,"a":2,"b":44,"c":-0.6},{"x":-1.15,"y":-0.45,"a":4,"b":48,"c":-0.25},{"x":-1.05,"y":-0.45,"a":8,"b":58,"c":0.2},{"x":-0.95,"y":-0.45,"a":14,"b":70,"c":0.6},{"x":-0.85,"y":-0.45,"a":22,"b":80,"c":0.85},{"x":-0.75,"y":-0.45,"a":29,"b":88,"c":0.95},{"x":-0.65,"y":-0.45,"a":32,"b":93,"c":1.0},{"x":-0.55,"y":-0.45,"a":32,"b":92,"c":1.0},{"x":-0.45,"y":-0.45,"a":30,"b":86,"c":0.95},{"x":-0.35,"y":-0.45,"a":26,"b":80,"c":0.85},{"x":-0.25,"y":-0.45,"a":21,"b":68,"c":0.65},{"x":-0.15,"y":-0.45,"a":15,"b":52,"c":0.25},{"x":-0.05,"y":-0.45,"a":10,"b":40,"c":-0.2},{"x":0.05,"y":-0.45,"a":8,"b":25,"c":-0.55},{"x":0.15,"y":-0.45,"a":10,"b":19,"c":-0.4},{"x":0.25,"y":-0.45,"a":15,"b":28,"c":0.1},{"x":0.35,"y":-0.45,"a":20,"b":42,"c":0.6},{"x":0.45,"y":-0.45,"a":26,"b":56,"c":1.0},{"x":0.55,"y":-0.45,"a":32,"b":70,"c":1.25},{"x":0.65,"y":-0.45,"a":37,"b":76,"c":1.4},{"x":0.75,"y":-0.45,"a":39,"b":76,"c":1.45},{"x":0.85,"y":-0.45,"a":39,"b":78,"c":1.45},{"x":0.95,"y":-0.45,"a":36,"b":84,"c":1.4},{"x":1.05,"y":-0.45,"a":32,"b":88,"c":1.3}
],
"pts":[{"x":-1.13,"y":1.47},{"x":-1.13,"y":1.24},{"x":-0.44,"y":1.04},{"x":-0.41,"y":0.89},{"x":0.41,"y":0.79},{"x":-1.18,"y":0.53},{"x":-0.93,"y":0.48},{"x":0.7,"y":0.03},{"x":0.14,"y":-0.35},{"x":-1.31,"y":-0.22}],
"bar":[{"v":-1.6},{"v":-1.5},{"v":-1.4},{"v":-1.3},{"v":-1.2},{"v":-1.1},{"v":-1.0},{"v":-0.9},{"v":-0.8},{"v":-0.7},{"v":-0.6},{"v":-0.5},{"v":-0.4},{"v":-0.3},{"v":-0.2},{"v":-0.1},{"v":0},{"v":0.1},{"v":0.2},{"v":0.3},{"v":0.4},{"v":0.5},{"v":0.6},{"v":0.7},{"v":0.8},{"v":0.9},{"v":1.0},{"v":1.1},{"v":1.2},{"v":1.3},{"v":1.4},{"v":1.5},{"v":1.6},{"v":1.7},{"v":1.8},{"v":1.9},{"v":2.0},{"v":2.1},{"v":2.2},{"v":2.3},{"v":2.4},{"v":2.5}]
},
"spacing":15,
"resolve":{"scale":{"color":"independent"}},
"hconcat":[
{"spacing":28,"bounds":"flush","resolve":{"scale":{"color":"independent"}},"hconcat":[
{"width":307,"height":303,"data":{"name":"grid"},"resolve":{"axis":{"x":"independent","y":"independent"}},"layer":[
{"mark":{"type":"rect","width":11.9,"height":12.6,"clip":true},"encoding":{
"x":{"field":"x","type":"quantitative","scale":{"domain":[-1.5,1.2],"nice":false,"zero":false},"axis":{"values":[-1,0,1],"format":"d","title":"X₁","tickSize":-6,"labelPadding":16,"titlePadding":6}},
"y":{"field":"y","type":"quantitative","scale":{"domain":[-0.5,2],"nice":false,"zero":false},"axis":{"values":[-0.5,0,0.5,1,1.5,2],"format":".1f","title":"X₂","tickSize":-6,"labelPadding":12,"titlePadding":11}},
"color":{"field":"a","type":"quantitative","scale":{"domain":[0,11,22,32,46,62,74,85,100],"range":["#f7fbff","#deebf7","#c6dbef","#9ecae1","#6baed6","#4292c6","#2171b5","#08519c","#08306b"]},"legend":null}}},
{"mark":{"type":"rect","width":17.5,"height":18.5,"opacity":0.5,"xOffset":2,"yOffset":2,"clip":true},"encoding":{"x":{"field":"x","type":"quantitative","axis":null},"y":{"field":"y","type":"quantitative","axis":null},"color":{"field":"a","type":"quantitative","legend":null}}},
{"mark":{"type":"point","opacity":0},"encoding":{
"x":{"field":"x","type":"quantitative","axis":{"orient":"top","values":[-1,0,1],"labels":false,"title":null,"tickSize":-6}},
"y":{"field":"y","type":"quantitative","axis":{"orient":"right","values":[-0.5,0,0.5,1,1.5,2],"labels":false,"title":null,"tickSize":-6}}}},
{"data":{"name":"pts"},"mark":{"type":"point","filled":true,"fill":"#fedc7f","stroke":"black","strokeWidth":2,"size":256,"opacity":1},"encoding":{"x":{"field":"x","type":"quantitative","axis":null},"y":{"field":"y","type":"quantitative","axis":null}}},
{"data":{"values":[{"x":-1.5,"y":2,"t":"A"}]},"mark":{"type":"text","align":"left","baseline":"alphabetic","fontWeight":"bold","fontSize":31,"dy":-12,"color":"black"},"encoding":{"x":{"field":"x","type":"quantitative","axis":null},"y":{"field":"y","type":"quantitative","axis":null},"text":{"field":"t"}}},
{"data":{"values":[{"x":-0.15,"y":2,"t":"Predictions"}]},"mark":{"type":"text","align":"center","baseline":"alphabetic","fontSize":26.3,"dy":-15,"color":"black"},"encoding":{"x":{"field":"x","type":"quantitative","axis":null},"y":{"field":"y","type":"quantitative","axis":null},"text":{"field":"t"}}}
]},
{"width":307,"height":303,"data":{"name":"grid"},"resolve":{"axis":{"x":"independent","y":"independent"}},"layer":[
{"mark":{"type":"rect","width":11.9,"height":12.6,"clip":true},"encoding":{
"x":{"field":"x","type":"quantitative","scale":{"domain":[-1.5,1.2],"nice":false,"zero":false},"axis":{"values":[-1,0,1],"format":"d","title":"X₁","tickSize":-6,"labelPadding":16,"titlePadding":6}},
"y":{"field":"y","type":"quantitative","scale":{"domain":[-0.5,2],"nice":false,"zero":false},"axis":{"values":[-0.5,0,0.5,1,1.5,2],"labels":false,"title":null,"tickSize":-6}},
"color":{"field":"b","type":"quantitative","scale":{"domain":[0,10,20,30,40,50,60,70,80,90,100],"range":["#440154","#482475","#3b528b","#2c728e","#21918c","#28ae80","#5ec962","#a0da39","#cde11d","#e7e419","#fde725"]},"legend":null}}},
{"mark":{"type":"rect","width":17.5,"height":18.5,"opacity":0.5,"xOffset":2,"yOffset":2,"clip":true},"encoding":{"x":{"field":"x","type":"quantitative","axis":null},"y":{"field":"y","type":"quantitative","axis":null},"color":{"field":"b","type":"quantitative","legend":null}}},
{"mark":{"type":"point","opacity":0},"encoding":{
"x":{"field":"x","type":"quantitative","axis":{"orient":"top","values":[-1,0,1],"labels":false,"title":null,"tickSize":-6}},
"y":{"field":"y","type":"quantitative","axis":{"orient":"right","values":[-0.5,0,0.5,1,1.5,2],"labels":false,"title":null,"tickSize":-6}}}},
{"data":{"values":[{"x":-1.5,"y":2,"t":"B"}]},"mark":{"type":"text","align":"left","baseline":"alphabetic","fontWeight":"bold","fontSize":31,"dy":-12,"color":"black"},"encoding":{"x":{"field":"x","type":"quantitative","axis":null},"y":{"field":"y","type":"quantitative","axis":null},"text":{"field":"t"}}},
{"data":{"values":[{"x":-0.15,"y":2,"t":"Uncertainties"}]},"mark":{"type":"text","align":"center","baseline":"alphabetic","fontSize":26.3,"dy":-15,"color":"black"},"encoding":{"x":{"field":"x","type":"quantitative","axis":null},"y":{"field":"y","type":"quantitative","axis":null},"text":{"field":"t"}}}
]},
{"width":307,"height":303,"data":{"name":"grid"},"resolve":{"axis":{"x":"independent","y":"independent"}},"layer":[
{"mark":{"type":"rect","width":11.9,"height":12.6,"clip":true},"encoding":{
"x":{"field":"x","type":"quantitative","scale":{"domain":[-1.5,1.2],"nice":false,"zero":false},"axis":{"values":[-1,0,1],"format":"d","title":"X₁","tickSize":-6,"labelPadding":16,"titlePadding":6}},
"y":{"field":"y","type":"quantitative","scale":{"domain":[-0.5,2],"nice":false,"zero":false},"axis":{"values":[-0.5,0,0.5,1,1.5,2],"labels":false,"title":null,"tickSize":-6}},
"color":{"field":"c","type":"quantitative","scale":{"domain":[-1.65,2.55],"scheme":"plasma"},"legend":null}}},
{"mark":{"type":"rect","width":17.5,"height":18.5,"opacity":0.5,"xOffset":2,"yOffset":2,"clip":true},"encoding":{"x":{"field":"x","type":"quantitative","axis":null},"y":{"field":"y","type":"quantitative","axis":null},"color":{"field":"c","type":"quantitative","legend":null}}},
{"mark":{"type":"point","opacity":0},"encoding":{
"x":{"field":"x","type":"quantitative","axis":{"orient":"top","values":[-1,0,1],"labels":false,"title":null,"tickSize":-6}},
"y":{"field":"y","type":"quantitative","axis":{"orient":"right","values":[-0.5,0,0.5,1,1.5,2],"labels":false,"title":null,"tickSize":-6}}}},
{"data":{"values":[{"x":-1.149,"x2":1.112,"y":1.917,"y2":1.604}]},"mark":{"type":"rect","fill":"white","fillOpacity":0.8,"stroke":"#cccccc","strokeWidth":1.5},"encoding":{"x":{"field":"x","type":"quantitative","axis":null},"x2":{"field":"x2"},"y":{"field":"y","type":"quantitative","axis":null},"y2":{"field":"y2"}}},
{"data":{"values":[{"x":-0.878,"y":1.766},{"x":0.84,"y":0.078}]},"mark":{"type":"point","shape":"M0,-1L0.2245,-0.309L0.951,-0.309L0.363,0.118L0.588,0.809L0,0.382L-0.588,0.809L-0.363,0.118L-0.951,-0.309L-0.2245,-0.309Z","filled":true,"fill":"#ff0000","stroke":"black","strokeWidth":2,"size":600,"opacity":1},"encoding":{"x":{"field":"x","type":"quantitative","axis":null},"y":{"field":"y","type":"quantitative","axis":null}}},
{"data":{"values":[{"x":-0.526,"y":1.766,"t":"New Experiment"}]},"mark":{"type":"text","align":"left","baseline":"middle","fontSize":21.6,"color":"black"},"encoding":{"x":{"field":"x","type":"quantitative","axis":null},"y":{"field":"y","type":"quantitative","axis":null},"text":{"field":"t"}}},
{"data":{"values":[{"x":-1.5,"y":2,"t":"C"}]},"mark":{"type":"text","align":"left","baseline":"alphabetic","fontWeight":"bold","fontSize":31,"dy":-12,"color":"black"},"encoding":{"x":{"field":"x","type":"quantitative","axis":null},"y":{"field":"y","type":"quantitative","axis":null},"text":{"field":"t"}}},
{"data":{"values":[{"x":-0.15,"y":2,"t":"Acq. Func."}]},"mark":{"type":"text","align":"center","baseline":"alphabetic","fontSize":26.3,"dy":-15,"color":"black"},"encoding":{"x":{"field":"x","type":"quantitative","axis":null},"y":{"field":"y","type":"quantitative","axis":null},"text":{"field":"t"}}}
]}
]},
{"width":17,"height":303,"view":{"stroke":"black","strokeWidth":3},"data":{"name":"bar"},"mark":{"type":"rect","height":8,"clip":true},"encoding":{
"y":{"field":"v","type":"quantitative","scale":{"domain":[-1.65,2.55],"nice":false,"zero":false},"axis":{"orient":"right","values":[-1,0,1,2],"format":"d","title":"Acq. Func.","titleAngle":270,"tickSize":6,"labelPadding":9,"titlePadding":44,"domainWidth":2.5}},
"color":{"field":"v","type":"quantitative","scale":{"domain":[-1.65,2.55],"scheme":"plasma"},"legend":null}}}
]
}
